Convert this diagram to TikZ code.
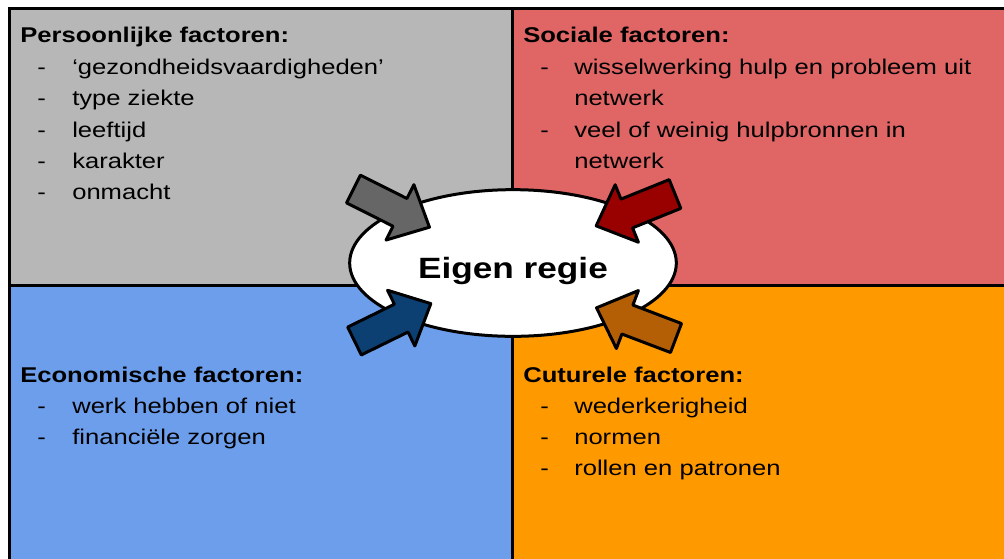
\documentclass[tikz,border=0pt]{standalone}
\usepackage{fontspec}
\setmainfont{Liberation Sans}[FakeStretch=1.2]
\usetikzlibrary{shapes.geometric}
\definecolor{qgrey}{HTML}{B7B7B7}
\definecolor{qred}{HTML}{E06666}
\definecolor{qblue}{HTML}{6D9EEB}
\definecolor{qorange}{HTML}{FF9900}
\definecolor{agrey}{HTML}{666666}
\definecolor{ared}{HTML}{990000}
\definecolor{ablue}{HTML}{0C3F72}
\definecolor{aorange}{HTML}{B45F06}
\newcommand\blkarrow[4]{%
  \begin{scope}[shift={(#1,#2)}, rotate=#3]
    \draw[barrow, fill=#4] (0,-15.5) -- (52,-15.5) -- (52,-31) -- (85,0) -- (52,31) -- (52,15.5) -- (0,15.5) -- cycle;
  \end{scope}}
\begin{document}
\begin{tikzpicture}[x=0.75pt,y=-0.75pt,
  lbl/.style={anchor=base west, inner sep=0, font=\fontsize{16}{19}\selectfont},
  ttl/.style={anchor=base west, inner sep=0, font=\fontsize{16}{19}\selectfont\bfseries},
  quad/.style={draw=black, line width=2.25pt},
  barrow/.style={draw=black, line width=2.25pt, line join=round}]
\useasboundingbox (0,0) rectangle (1004,558);
\clip (0,0) rectangle (1004,558);
% quadrants
\fill[qgrey] (9.5,8.5) rectangle (512,285);
\fill[qred] (512,8.5) rectangle (1020,285);
\fill[qblue] (9.5,285) rectangle (512,570);
\fill[qorange] (512,285) rectangle (1020,570);
\draw[quad] (1020,8.5) -- (9.5,8.5) -- (9.5,570);
\draw[quad] (512,8.5) -- (512,570);
\draw[quad] (9.5,285) -- (1020,285);
% top-left
\node[ttl] (t1) at (20,42) {Persoonlijke factoren:};
\foreach \y/\t [count=\i] in {74/{‘gezondheidsvaardigheden’},105/{type ziekte},137/{leeftijd},168/{karakter},199/{onmacht}}{
  \node[lbl] (d1\i) at (37,\y) {-};
  \node[lbl] (a1\i) at (72,\y) {\t};
}
% top-right
\node[ttl] (t2) at (523,42) {Sociale factoren:};
\node[lbl] (d21) at (540,74) {-};
\node[lbl] (a21) at (574,74) {wisselwerking hulp en probleem uit};
\node[lbl] (a22) at (574,105) {netwerk};
\node[lbl] (d23) at (540,137) {-};
\node[lbl] (a23) at (574,137) {veel of weinig hulpbronnen in};
\node[lbl] (a24) at (574,168) {netwerk};
% bottom-left
\node[ttl] (t3) at (20,382) {Economische factoren:};
\foreach \y/\t [count=\i] in {413/{werk hebben of niet},444/{financiële zorgen}}{
  \node[lbl] (d3\i) at (37,\y) {-};
  \node[lbl] (a3\i) at (72,\y) {\t};
}
% bottom-right
\node[ttl] (t4) at (523,382) {Cuturele factoren:};
\foreach \y/\t [count=\i] in {413/{wederkerigheid},444/{normen},475/{rollen en patronen}}{
  \node[lbl] (d4\i) at (540,\y) {-};
  \node[lbl] (a4\i) at (574,\y) {\t};
}
% centre ellipse
\node[ellipse, draw=black, line width=2.25pt, fill=white, minimum width=245pt, minimum height=110pt, inner sep=0] (er) at (513,263) {};
\node[anchor=base, inner sep=0, font=\fontsize{22}{26}\selectfont\bfseries] (ertext) at (513,278) {Eigen regie};
% arrows
\blkarrow{353.5}{189}{-26.7}{agrey}
\blkarrow{675}{194}{-158}{ared}
\blkarrow{354.5}{341}{26.1}{ablue}
\blkarrow{676}{338}{159.2}{aorange}
\end{tikzpicture}
\end{document}
